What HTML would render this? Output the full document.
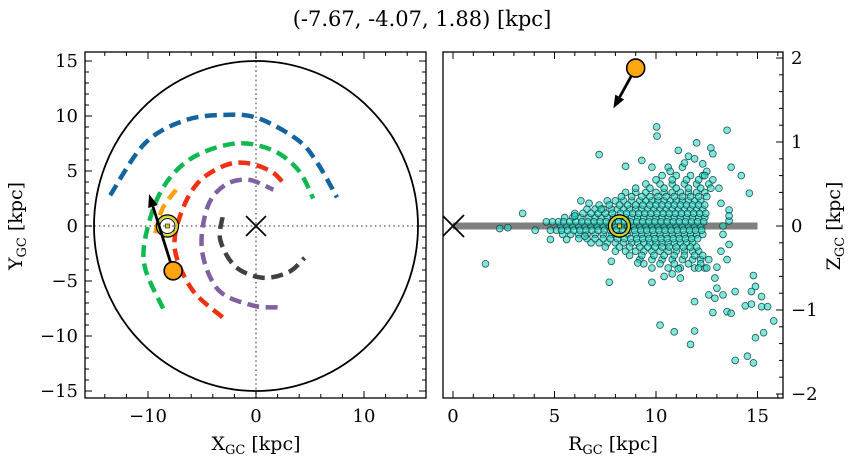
<!DOCTYPE html>
<html><head><meta charset="utf-8"><style>
html,body{margin:0;padding:0;background:#fff;}
svg{display:block;font-family:"DejaVu Serif","Liberation Serif",serif;}
</style></head><body>
<svg id="c" width="854" height="464" viewBox="0 0 854 464">
<text x="422" y="26" text-anchor="middle" font-size="21">(-7.67, -4.07, 1.88) [kpc]</text>
<g id="L"></g>
<g id="R"></g>
</svg>
<script>
// ---- data ----
const leftXTicks=[-10,0,10];
const leftYTicks=[-15,-10,-5,0,5,10,15];
const rightXTicks=[0,5,10,15];
const rightYTicks=[-2,-1,0,1,2];
const armBlueX=[-13.5,-10.3,-6.6,-2.9,0.2,3.9,5.7,7.5];
const armBlueY=[2.8,7.5,9.6,10.1,9.8,7.8,5.7,2.6];
const armGreenX=[-8.6,-10.3,-10.1,-8.6,-5.9,-1.9,1.5,3.9,5.3];
const armGreenY=[-7.5,-3.7,-0.4,3.5,6.2,7.5,6.9,5.1,2.5];
const armOrangeX=[-7.4,-8.7,-9.4];
const armOrangeY=[3.3,1.5,-1.0];
const armRedX=[-3.1,-5.9,-7.5,-7.0,-5.4,-2.9,-0.7,1.5,2.7];
const armRedY=[-8.3,-5.8,-2.2,1.0,3.9,5.5,5.7,4.9,3.7];
const armPurpleX=[2.0,-0.4,-3.5,-5.0,-4.5,-2.9,-0.7,1.6];
const armPurpleY=[-7.4,-7.2,-5.8,-2.2,1.7,3.7,4.2,3.3];
const armGreyX=[-3.1,-3.3,-1.9,0.6,3.0,4.5];
const armGreyY=[0.8,-1.3,-3.7,-4.7,-4.2,-2.9];
const objXYZ=[-7.67,-4.07,1.88];
const objR=[9.0];
const arrowXY=[-9.9,2.9];
const arrowRZ=[7.9,1.40];
const sunXY=[-8.2,0];
const sunRZ=[8.2,0];
const rowR=[
[5.3,5.6,5.9,6.2,6.5,6.8,7.1,7.4,7.7,8.0,8.3,8.6,8.9,9.2,9.5,9.8,10.1,10.4,10.7,11.0,11.3,11.6,11.9,12.2],
[5.5,5.9,6.3,6.7,7.0,7.3,7.6,7.9,8.2,8.5,8.8,9.1,9.4,9.7,10.0,10.3,10.6,10.9,11.2,11.5,11.8,12.1,12.4],
[5.4,5.8,6.2,6.6,7.0,7.4,7.8,8.2,8.6,9.0,9.3,9.6,9.9,10.2,10.5,10.8,11.1,11.4,11.7,12.0,12.3],
[6.6,7.0,7.4,7.8,8.1,8.4,8.7,9.0,9.3,9.6,9.9,10.2,10.5,10.8,11.1,11.4,11.7,12.0,12.3],
[6.8,7.2,7.6,8.0,8.4,8.8,9.1,9.4,9.7,10.0,10.3,10.6,10.9,11.2,11.5,11.8],
[7.6,8.0,8.4,8.8,9.2,9.5,9.8,10.1,10.4,10.7,11.0,11.3,11.6,11.9,12.2],
[8.0,8.5,9.0,9.4,9.8,10.2,10.6,11.0,11.4,11.8,12.1],
[8.5,9.0,9.5,10.0,10.4,10.8,11.2,11.6,12.0,12.4],
[9.2,9.8,10.3,10.8,11.3,11.8,12.2,12.6],
[9.5,10.2,10.8,11.4,12.0,12.6],
[9.8,10.6,11.2,11.9,12.4],
[10.3,11.0,11.7,12.3],
[9.8,10.6,11.3],
[4.6,4.9,5.2,5.45,5.75,6.05,6.35,6.65,6.95,7.25,7.55,7.85,8.15,8.45,8.75,9.05,9.35,9.65,9.95,10.25,10.55,10.85,11.15,11.45,11.75,12.05,12.35],
[4.8,5.1,5.35,5.65,5.95,6.25,6.55,6.85,7.15,7.45,7.75,8.05,8.35,8.65,8.95,9.25,9.55,9.85,10.15,10.45,10.75,11.05,11.35,11.65,11.95,12.25],
[6.0,6.4,6.8,7.15,7.5,7.85,8.25,8.55,8.85,9.15,9.45,9.75,10.05,10.35,10.65,10.95,11.25,11.55,11.85,12.15,12.45],
[6.2,6.6,7.0,7.4,7.75,8.1,8.45,8.75,9.05,9.35,9.65,9.95,10.25,10.55,10.85,11.15,11.45,11.75,12.05],
[7.2,7.7,8.2,8.6,9.0,9.35,9.7,10.0,10.3,10.6,10.9,11.2,11.5,11.8,12.1,12.4],
[7.5,8.2,8.7,9.2,9.6,9.95,10.3,10.65,11.0,11.35,11.7,12.0],
[8.3,8.8,9.3,9.7,10.1,10.5,10.9,11.3,11.7,12.1,12.5],
[8.7,9.3,9.9,10.4,10.9,11.4,11.9,12.3],
[9.0,9.7,10.4,11.0,11.6,12.2,12.7],
[9.4,10.2,10.9,11.6,12.2],
[10.0,10.8,11.5,12.1,12.8]];
const rowZ=[0,0.1,-0.1,0.2,-0.2,0.3,-0.3,0.4,-0.4,0.5,-0.5,0.6,0.7,0.05,-0.05,0.15,-0.15,0.25,-0.25,0.35,-0.35,0.45,-0.45,0.55];
const outR=[10.03,10.05,13.5,12.0,7.2,12.7,9.3,8.5,13.7,14.2,14.6,11.6,11.1,12.8,12.3,3.43,2.3,2.7,1.6,4.8,5.6,4.05,6.3,6.7,7.7,7.8,9.8,10.2,10.9,11.7,11.9,11.9,12.6,12.9,12.8,13.5,13.7,13.3,13.0,13.9,14.8,14.9,14.7,15.2,15.2,15.5,14.4,14.7,15.8,15.3,14.9,13.9,14.5,14.8,13.6,13.3,13.6,13.3,13.2,13.5,13.0,12.5,12.1,11.1,10.8,9.1,13.6,13.6,13.2,6.0,6.5,7.3,10.7,11.4,12.5,11.9,12.4,11.2,10.4,12.9,13.1];
const outZ=[1.18,1.07,1.14,0.99,0.85,0.93,0.78,0.71,0.70,0.60,0.39,0.83,0.9,0.86,0.74,0.15,-0.03,-0.02,-0.45,-0.16,-0.16,-0.05,0.3,0.27,-0.67,-0.42,-0.67,-1.18,-1.26,-1.41,-1.25,-0.9,-0.82,-0.86,-1.03,-1.02,-1.04,-0.82,-0.74,-0.78,-0.59,-0.72,-0.78,-0.84,-0.96,-0.96,-0.95,-0.93,-1.13,-1.27,-1.33,-1.6,-1.55,-1.63,-0.22,-0.1,0.06,0,-0.3,-0.4,-0.49,-0.5,-0.5,-0.51,-0.57,-0.44,0.19,0.12,0.27,0.12,-0.12,0.2,0.65,0.75,0.65,0.8,0.6,-0.62,-0.6,-0.62,0.45];

// ---- helpers ----
const NS="http://www.w3.org/2000/svg";
function mk(parent,tag,attrs){const e=document.createElementNS(NS,tag);for(const k in attrs)e.setAttribute(k,attrs[k]);parent.appendChild(e);return e;}
const L=document.getElementById('L'),R=document.getElementById('R');
const LB={x0:85,x1:426,y0:52,y1:398};
const lx=v=>256+v*10.8, ly=v=>226-v*11;
const RB={x0:443,x1:783,y0:52,y1:398};
const rx=v=>453+v*20.3, ry=v=>226-v*84;

const defs=mk(document.getElementById('c'),'defs',{});
const cpL=mk(defs,'clipPath',{id:'cpL'});mk(cpL,'rect',{x:LB.x0,y:LB.y0,width:LB.x1-LB.x0,height:LB.y1-LB.y0});
const cpR=mk(defs,'clipPath',{id:'cpR'});mk(cpR,'rect',{x:RB.x0,y:RB.y0,width:RB.x1-RB.x0,height:RB.y1-RB.y0});
const gL=mk(L,'g',{'clip-path':'url(#cpL)'});
const gR=mk(R,'g',{'clip-path':'url(#cpR)'});

let e=mk(gL,'line',{x1:LB.x0,x2:LB.x1,y1:ly(0),y2:ly(0),stroke:'#777','stroke-width':1.6,'stroke-dasharray':'1.6 3'});


e=mk(gL,'line',{x1:lx(0),x2:lx(0),y1:LB.y0,y2:LB.y1,stroke:'#777','stroke-width':1.6,'stroke-dasharray':'1.6 3'});


e=mk(gL,'ellipse',{cx:lx(0),cy:ly(0),rx:15*10.8,ry:15*11,fill:'none',stroke:'#000','stroke-width':1.8});


function smoothPath(xs,ys){const p=xs.map((v,i)=>[lx(v),ly(ys[i])]);let d='M'+p[0][0]+','+p[0][1];
 for(let i=0;i<p.length-1;i++){const p0=p[i-1]||p[i],p1=p[i],p2=p[i+1],p3=p[i+2]||p2;
  d+=' C'+(p1[0]+(p2[0]-p0[0])/6)+','+(p1[1]+(p2[1]-p0[1])/6)+' '+(p2[0]-(p3[0]-p1[0])/6)+','+(p2[1]-(p3[1]-p1[1])/6)+' '+p2[0]+','+p2[1];}
 return d;}
const arms=[[armBlueX,armBlueY,'#1464a0','arm-blue'],[armGreenX,armGreenY,'#10b850','arm-green'],[armOrangeX,armOrangeY,'#ffa010','arm-orange'],[armRedX,armRedY,'#f03010','arm-red'],[armPurpleX,armPurpleY,'#8060a0','arm-purple'],[armGreyX,armGreyY,'#404040','arm-grey']];
arms.forEach(a=>{const p=mk(gL,'path',{d:smoothPath(a[0],a[1]),fill:'none',stroke:a[2],'stroke-width':4.5,'stroke-dasharray':'12 6.5'});
 
 });
function xmark(g,cx,cy,s,name){const gg=mk(g,'g',{stroke:'#000','stroke-width':1.8});
 
 
 mk(gg,'line',{x1:cx-s,y1:cy-s,x2:cx+s,y2:cy+s});mk(gg,'line',{x1:cx-s,y1:cy+s,x2:cx+s,y2:cy-s});}
xmark(gL,lx(0),ly(0),10,'galactic-center-marker');
function sun(g,cx,cy,name){const gg=mk(g,'g',{});
 
 
 mk(gg,'circle',{cx:cx,cy:cy,r:11,fill:'none',stroke:'#000','stroke-width':1.4});
 mk(gg,'circle',{cx:cx,cy:cy,r:9.5,fill:'none',stroke:'#d8d020','stroke-width':2});
 mk(gg,'circle',{cx:cx,cy:cy,r:7.5,fill:'none',stroke:'#000','stroke-width':1});
 mk(gg,'rect',{x:cx-2,y:cy-2,width:4,height:4,fill:'#d8d020',stroke:'#000','stroke-width':0.6});}
sun(gL,lx(sunXY[0]),ly(sunXY[1]),'sun-marker');
function arrow(g,x1,y1,x2,y2,name){const gg=mk(g,'g',{});
 
 
 const dx=x2-x1,dy=y2-y1,len=Math.hypot(dx,dy),ux=dx/len,uy=dy/len,hl=13,hw=5;
 const bx=x2-ux*hl,by=y2-uy*hl;
 mk(gg,'line',{x1:x1,y1:y1,x2:bx,y2:by,stroke:'#000','stroke-width':2.8});
 mk(gg,'polygon',{points:`${x2},${y2} ${bx-uy*hw},${by+ux*hw} ${bx+uy*hw},${by-ux*hw}`,fill:'#000'});}
arrow(gL,lx(objXYZ[0]),ly(objXYZ[1]),lx(arrowXY[0]),ly(arrowXY[1]),'velocity-arrow-xy');
e=mk(gL,'circle',{cx:lx(objXYZ[0]),cy:ly(objXYZ[1]),r:9,fill:'#ffa510',stroke:'#000','stroke-width':1.6});



e=mk(gR,'line',{x1:rx(0),x2:rx(15),y1:ry(0),y2:ry(0),stroke:'#808080','stroke-width':7});


xmark(gR,rx(0),ry(0),11,'galactic-center-marker-rz');
const pts=mk(gR,'g',{});


function dot(r,z){const c=mk(pts,'circle',{cx:rx(r),cy:ry(z),r:3.4,fill:'rgba(40,215,200,0.6)',stroke:'rgba(10,55,50,0.85)','stroke-width':0.8});
 
 }
rowZ.forEach((z,i)=>rowR[i].forEach(r=>dot(r,z)));
outR.forEach((r,i)=>dot(r,outZ[i]));
sun(gR,rx(sunRZ[0]),ry(sunRZ[1]),'sun-marker-rz');
arrow(gR,rx(objR[0]),ry(objXYZ[2]),rx(arrowRZ[0]),ry(arrowRZ[1]),'velocity-arrow-rz');
e=mk(gR,'circle',{cx:rx(objR[0]),cy:ry(objXYZ[2]),r:9,fill:'#ffa510',stroke:'#000','stroke-width':1.6});



function frame(g,B,name){const r=mk(g,'rect',{x:B.x0,y:B.y0,width:B.x1-B.x0,height:B.y1-B.y0,fill:'none',stroke:'#000','stroke-width':1.3});
 
 }
frame(L,LB,'left-axes-frame');frame(R,RB,'right-axes-frame');
function tk(g,x1,y1,x2,y2,w){mk(g,'line',{x1:x1,y1:y1,x2:x2,y2:y2,stroke:'#000','stroke-width':w||1});}
function label(g,x,y,t,anchor,name){const e=mk(g,'text',{x:x,y:y,'text-anchor':anchor,'font-size':18});e.textContent=t;
 
 }
const fmt=v=>(v<0?'\u2212'+(-v):''+v);
for(let v=-16;v<=16;v+=2){const x=lx(v);if(x<LB.x0||x>LB.x1)continue;const maj=leftXTicks.includes(v)?7:4;tk(L,x,LB.y1,x,LB.y1-maj);tk(L,x,LB.y0,x,LB.y0+maj);}
leftXTicks.forEach(v=>label(L,lx(v),422,fmt(v),'middle','x-tick-label'));
for(let v=-15;v<=15;v++){const y=ly(v);const maj=leftYTicks.includes(v)?7:4;tk(L,LB.x0,y,LB.x0+maj,y);tk(L,LB.x1,y,LB.x1-maj,y);}
leftYTicks.forEach(v=>label(L,78,ly(v)+6,fmt(v),'end','y-tick-label'));
for(let v=0;v<=16;v++){const x=rx(v);if(x>RB.x1)continue;const maj=rightXTicks.includes(v)?7:4;tk(R,x,RB.y1,x,RB.y1-maj);tk(R,x,RB.y0,x,RB.y0+maj);}
rightXTicks.forEach(v=>label(R,rx(v),422,''+v,'middle','r-tick-label'));
for(let i=-10;i<=10;i++){const v=i/5,y=ry(v);const maj=(i%5===0)?7:4;tk(R,RB.x1,y,RB.x1-maj,y);}
rightYTicks.forEach(v=>label(R,791,ry(v)+6,fmt(v),'start','z-tick-label'));
function title(g,x,y,main,sub,rot,name){const e=mk(g,'text',{x:x,y:y,'text-anchor':'middle','font-size':19});
 if(rot)e.setAttribute('transform',`rotate(-90 ${x} ${y})`);
 
 
 const t1=mk(e,'tspan',{});t1.textContent=main;
 const t2=mk(e,'tspan',{'font-size':13,dy:4});t2.textContent=sub;
 const t3=mk(e,'tspan',{dy:-4});t3.textContent=' [kpc]';}
title(L,256,450,'X','GC',false,'x-axis-title');
title(R,613,450,'R','GC',false,'r-axis-title');
title(L,22,226,'Y','GC',true,'y-axis-title');
title(R,840,226,'Z','GC',true,'z-axis-title');
</script>
</body></html>
